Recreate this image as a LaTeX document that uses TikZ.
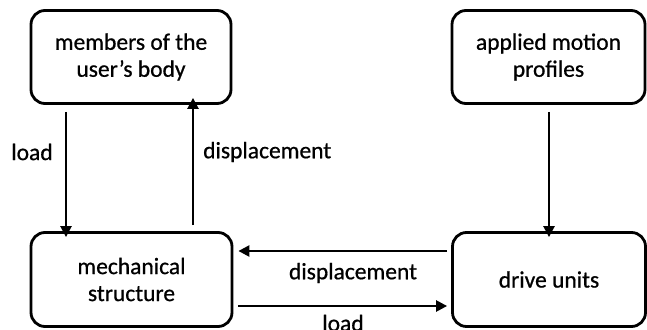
\documentclass[tikz,border=0pt]{standalone}
\usepackage{fontspec}
\setmainfont[FakeBold=0.7]{Carlito}
\usetikzlibrary{arrows.meta}
\begin{document}
\begin{tikzpicture}[x=1pt,y=-1pt,
  blk/.style={draw=black,line width=2.8pt,rounded corners=14pt,align=center,
    font=\fontsize{23.5}{27}\selectfont,inner sep=0pt},
  arr/.style={line width=2.4pt,-{Triangle[length=11pt,width=11pt]}},
  lbl/.style={font=\fontsize{23.5}{27}\selectfont,inner sep=0pt}]
\useasboundingbox (0,0) rectangle (647,329);
\node[blk,minimum width=200pt,minimum height=93pt] (body) at (131,57) {members of the\\user’s body};
\node[blk,minimum width=193pt,minimum height=93pt] (prof) at (548.5,57) {applied motion\\profiles};
\node[blk,minimum width=201pt,minimum height=94pt] (mech) at (131.5,279.5) {mechanical\\structure};
\node[blk,minimum width=193pt,minimum height=94pt] (drive) at (549,279.5) {drive units};
\draw[arr] (body.south -| 66,0) ++(0,7) -- ([yshift=-6pt]mech.north -| 66,0);
\draw[arr] (mech.north -| 193,0) ++(0,-6) -- ([yshift=7pt]body.south -| 193,0);
\draw[arr] (prof.south -| 549,0) ++(0,7) -- ([yshift=-6pt]drive.north -| 549,0);
\draw[arr] (drive.west |- 0,251) ++(-4,0) -- ([xshift=5pt]mech.east |- 0,251);
\draw[arr] (mech.east |- 0,306) ++(5,0) -- ([xshift=-4pt]drive.west |- 0,306);
\node[lbl] (l1) at (32,152) {load};
\node[lbl,anchor=west] (l2) at (203,152) {displacement};
\node[lbl] (l3) at (353,273) {displacement};
\node[lbl] (l4) at (343,323) {load};
\end{tikzpicture}
\end{document}
